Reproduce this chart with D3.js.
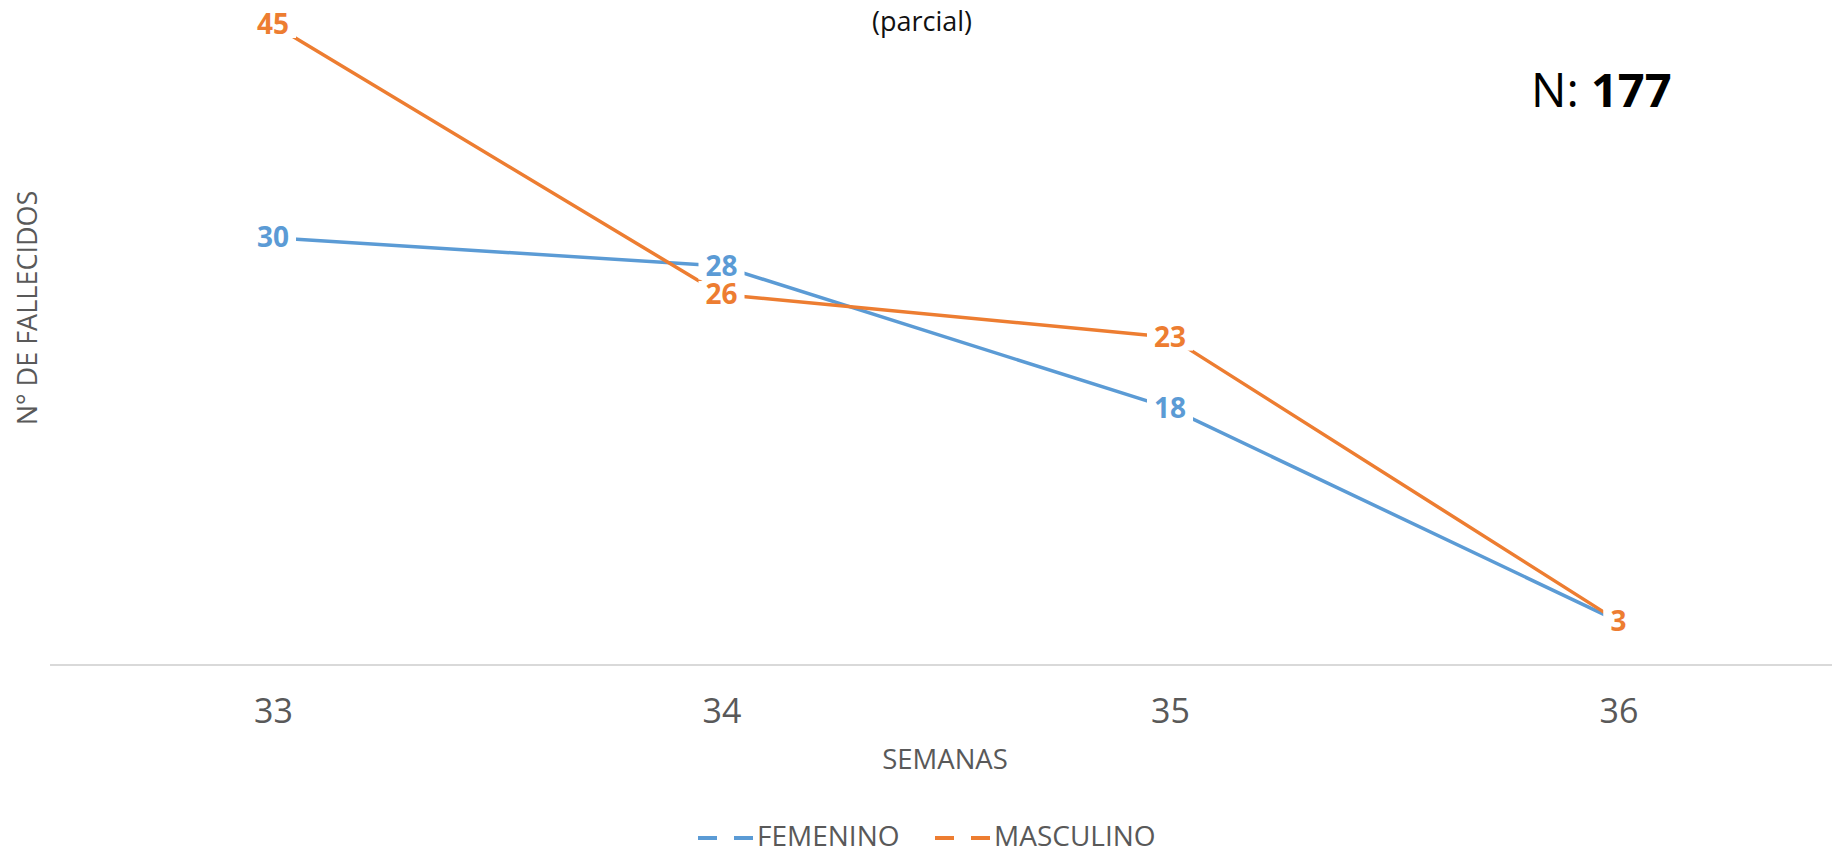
<!DOCTYPE html>
<html>
<head>
<meta charset="utf-8">
<script src="https://cdn.jsdelivr.net/npm/d3@7"></script>
<style>
  html, body { margin: 0; padding: 0; background: #fff; }
  svg { display: block; font-family: "Open Sans", sans-serif; }
</style>
</head>
<body>
<svg id="chart" width="1832" height="852"></svg>
<script>
const weeks = ["33", "34", "35", "36"];
const femenino = [30, 28, 18, 3];
const masculino = [45, 26, 23, 3];
const seriesNames = ["FEMENINO", "MASCULINO"];
const seriesColors = ["#5b9bd5", "#ed7d31"];
const titleText = "(parcial)";
const xTitle = "SEMANAS";
const yTitle = "N° DE FALLECIDOS";
const totalLabel = "N: ";
const totalValue = "177";

const svg = d3.select("#chart");
const x = d3.scalePoint().domain(weeks).range([273, 1618.5]);
const y = d3.scaleLinear().domain([0, 45]).range([664, 24.5]);

// title (partial)
svg.append("text").attr("x", 922).attr("y", 30.5).attr("text-anchor", "middle")
  .attr("font-size", 27).attr("fill", "#111").text(titleText);

// x axis
svg.append("line").attr("x1", 50).attr("x2", 1832).attr("y1", 665).attr("y2", 665)
  .attr("stroke", "#d9d9d9").attr("stroke-width", 2);
const ax = svg.append("g").attr("transform", "translate(0,665)")
  .call(d3.axisBottom(x).tickSize(0));
ax.select(".domain").remove();
ax.selectAll("text").attr("y", 58).attr("dy", 0)
  .attr("font-size", 34).attr("font-family", "Open Sans, sans-serif").attr("fill", "#595959");

// axis titles
svg.append("text").attr("x", 945).attr("y", 769).attr("text-anchor", "middle")
  .attr("font-size", 27.5).attr("fill", "#595959").text(xTitle);
svg.append("text").attr("transform", "translate(37,308) rotate(-90)")
  .attr("text-anchor", "middle").attr("font-size", 27).attr("fill", "#595959").text(yTitle);

// N label
const nt = svg.append("text").attr("x", 1531).attr("y", 107).attr("font-size", 47).attr("fill", "#000");
nt.append("tspan").text(totalLabel);
nt.append("tspan").attr("font-weight", "bold").text(totalValue);

// lines
const allSeries = [femenino, masculino];
const line = d3.line().x((d, i) => x(weeks[i])).y(d => y(d));
allSeries.forEach((vals, si) => {
  svg.append("path").datum(vals).attr("d", line).attr("fill", "none")
    .attr("stroke", seriesColors[si]).attr("stroke-width", 3.5).attr("stroke-linejoin", "round");
});

// data labels with white background
allSeries.forEach((vals, si) => {
  vals.forEach((v, i) => {
    const g = svg.append("g");
    const cx = x(weeks[i]), cy = y(v);
    const r = g.append("rect").attr("fill", "#fff");
    const t = g.append("text").attr("x", cx).attr("y", cy + 9.8).attr("text-anchor", "middle")
      .attr("font-size", 28).attr("font-weight", "bold").attr("fill", seriesColors[si]).text(v);
    const bb = t.node().getBBox();
    r.attr("x", bb.x - 7).attr("width", bb.width + 14).attr("y", cy - 13.5).attr("height", 27);
  });
});

// legend
const legendItems = [
  { name: seriesNames[0], color: seriesColors[0], x0: 698, tx: 757 },
  { name: seriesNames[1], color: seriesColors[1], x0: 935, tx: 994 }
];
legendItems.forEach(it => {
  svg.append("line").attr("x1", it.x0).attr("x2", it.x0 + 55).attr("y1", 838).attr("y2", 838)
    .attr("stroke", it.color).attr("stroke-width", 4).attr("stroke-dasharray", "19,17");
  svg.append("text").attr("x", it.tx).attr("y", 846).attr("font-size", 28).attr("fill", "#595959").text(it.name);
});
</script>
</body>
</html>
